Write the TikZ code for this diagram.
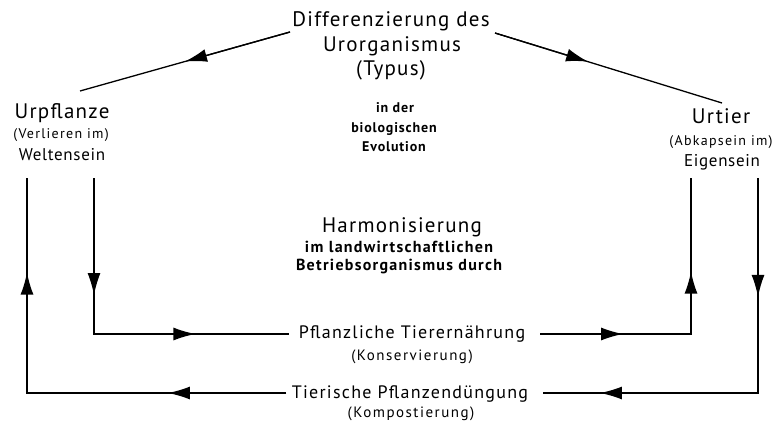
\documentclass[tikz,border=0pt]{standalone}
\usepackage{fontspec}
\setmainfont{PT Sans}
\newfontfamily\bigf[LetterSpace=6]{PT Sans}
\newfontfamily\medf[LetterSpace=7]{PT Sans}
\newfontfamily\sidef[LetterSpace=4]{PT Sans}
\newfontfamily\parf[LetterSpace=10]{PT Sans}
\newfontfamily\sparf[LetterSpace=9]{PT Sans}
\newfontfamily\evf[LetterSpace=6]{PT Sans Bold}
\newfontfamily\harf[LetterSpace=8]{PT Sans Bold}
\usetikzlibrary{arrows.meta,calc}
\begin{document}
\begin{tikzpicture}[x=1pt,y=-1pt,
  big/.style={inner sep=0pt,anchor=base,font=\bigf\fontsize{21}{24}\selectfont},
  med/.style={inner sep=0pt,anchor=base,font=\medf\fontsize{18}{21}\selectfont},
  side/.style={inner sep=0pt,anchor=base,font=\sidef\fontsize{17}{20}\selectfont},
  paren/.style={inner sep=0pt,anchor=base,font=\parf\fontsize{15}{18}\selectfont},
  sparen/.style={inner sep=0pt,anchor=base,font=\sparf\fontsize{14}{17}\selectfont},
  evol/.style={inner sep=0pt,anchor=base,font=\evf\fontsize{14}{17}\selectfont},
  harm/.style={inner sep=0pt,anchor=base,font=\harf\fontsize{16}{19}\selectfont},
  conn/.style={line width=1.3pt},
  tip/.style={line width=1.3pt,-{Latex[length=22pt,width=13pt]}}]
\useasboundingbox (0,0) rectangle (781,425);
% top
\node[big] (d1) at (391,27) {Differenzierung des};
\node[big] (d2) at (392,52) {Urorganismus};
\node[big] (d3) at (391,76) {(Typus)};
% left
\node[big] (p1) at (62,118) {Urpflanze};
\node[sparen] (p2) at (61,139) {(Verlieren im)};
\node[side] (p3) at (62,160) {Weltensein};
% right
\node[big] (t1) at (721,124) {Urtier};
\node[sparen] (t2) at (721,145) {(Abkapsein im)};
\node[side] (t3) at (722,166) {Eigensein};
% evolution
\node[evol] (e1) at (395,113) {in der};
\node[evol] (e2) at (394,132) {biologischen};
\node[evol] (e3) at (394,151) {Evolution};
% harmonisierung
\node[big] (h1) at (402,232) {Harmonisierung};
\node[harm] (h2) at (399,252) {im landwirtschaftlichen};
\node[harm] (h3) at (399,270) {Betriebsorganismus durch};
% bottom labels
\node[med] (k1) at (412,338) {Pflanzliche Tierernährung};
\node[paren] (k2) at (412,360) {(Konservierung)};
\node[med] (c1) at (410,398) {Tierische Pflanzendüngung};
\node[paren] (c2) at (411,417) {(Kompostierung)};
% coordinates
\coordinate (dL) at (290,32);
\coordinate (dR) at (495,33);
\coordinate (pT) at (80,91);
\coordinate (tT) at (722,103);
\coordinate (a1) at (94,178);
\coordinate (a2) at (94,334);
\coordinate (a3) at (289,334);
\coordinate (b1) at (27,178);
\coordinate (b2) at (27,393);
\coordinate (b3) at (286,393);
\coordinate (c3) at (540,334);
\coordinate (c4) at (691,334);
\coordinate (c5) at (691,178);
\coordinate (f1) at (543,393);
\coordinate (f2) at (758,393);
\coordinate (f3) at (758,178);
% connectors
\draw[conn] (dL) -- (pT);
\draw[tip] (dL) -- ($(dL)!0.5!(pT)$);
\draw[conn] (dR) -- (tT);
\draw[tip] (dR) -- ($(dR)!0.41!(tT)$);
\draw[conn] (a1) -- (a2) -- (a3);
\draw[tip] (a1) -- ($(a1)!0.75!(a2)$);
\draw[tip] (a2) -- ($(a2)!0.52!(a3)$);
\draw[conn] (b3) -- (b2) -- (b1);
\draw[tip] (b3) -- ($(b3)!0.456!(b2)$);
\draw[tip] (b2) -- ($(b2)!0.56!(b1)$);
\draw[conn] (c3) -- (c4) -- (c5);
\draw[tip] (c3) -- ($(c3)!0.55!(c4)$);
\draw[tip] (c4) -- ($(c4)!0.40!(c5)$);
\draw[conn] (f3) -- (f2) -- (f1);
\draw[tip] (f3) -- ($(f3)!0.553!(f2)$);
\draw[tip] (f2) -- ($(f2)!0.735!(f1)$);
\end{tikzpicture}
\end{document}
